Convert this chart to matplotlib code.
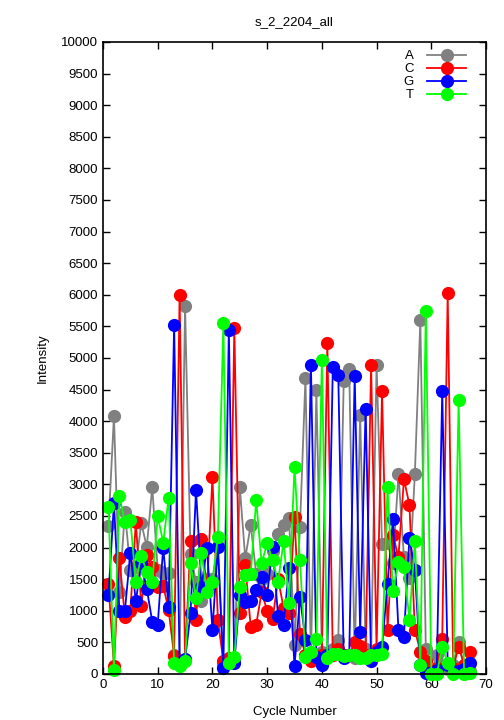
import matplotlib
matplotlib.use("Agg")
import matplotlib.pyplot as plt
import matplotlib.ticker as ticker

plt.rcParams['font.family'] = ['Liberation Sans', 'DejaVu Sans']

# cycle numbers 1..67
cycles = list(range(1, 68))

# intensities, per base
A = [2340, 4080, 1300, 2570, 1650, 1700, 2390, 2010, 2960, 1650,
     1600, 1600, 300, 200, 5820, 1900, 1450, 1150, 1500, 1500,
     2030, 150, 250, 200, 2960, 1830, 2360, 1580, 1500, 1580,
     1950, 2210, 2360, 2470, 460, 2330, 4680, 250, 4490, 350,
     300, 400, 540, 4640, 4820, 250, 4100, 400, 300, 4890,
     2050, 2070, 1750, 3170, 1850, 1520, 3170, 5600, 400, 20,
     300, 150, 80, 150, 510, 100, 50]
C = [1420, 130, 1840, 900, 1000, 2410, 1080, 1880, 1700, 1380,
     1400, 1010, 290, 5990, 220, 2100, 850, 2130, 1350, 3110,
     850, 200, 250, 5470, 960, 1720, 750, 780, 1300, 1000,
     870, 1500, 1050, 960, 2490, 640, 300, 200, 280, 300,
     5230, 300, 400, 300, 300, 500, 450, 300, 4890, 400,
     4470, 700, 2200, 1850, 3080, 2680, 700, 350, 200, 50,
     100, 560, 6030, 100, 430, 150, 350]
G = [1250, 2700, 1000, 1000, 1920, 1150, 1750, 1350, 830, 780,
     2000, 1060, 5530, 150, 230, 960, 2910, 1380, 2000, 700,
     2010, 100, 5450, 180, 1250, 1140, 1150, 1330, 1540, 1250,
     2010, 910, 780, 1680, 120, 1220, 540, 4890, 270, 140,
     300, 4860, 4730, 250, 300, 4720, 670, 4200, 200, 350,
     420, 1430, 2450, 700, 590, 2150, 1650, 150, 20, 20,
     60, 4470, 150, 50, 50, 80, 170]
T = [2650, 70, 2820, 2400, 2440, 1460, 1870, 1620, 1450, 2500,
     2080, 2790, 180, 120, 200, 1750, 1200, 1910, 1300, 1460,
     2170, 5550, 180, 270, 1380, 1570, 1580, 2750, 1750, 2070,
     1800, 1460, 2100, 1120, 3280, 1800, 270, 350, 550, 4970,
     250, 320, 320, 280, 300, 300, 250, 250, 300, 300,
     320, 2960, 1320, 1780, 1700, 860, 2100, 150, 5750, 0,
     0, 430, 170, 0, 4330, 0, 20]

series = [("A", A, "#808080"), ("C", C, "#ff0000"),
          ("G", G, "#0000ff"), ("T", T, "#00ff00")]

fig = plt.figure(figsize=(5.04, 7.2), dpi=100)
ax = fig.add_axes([103 / 504, 46 / 720, 383 / 504, 632 / 720])

for name, values, color in series:
    ax.plot(cycles, values, color=color, lw=1.3, marker="o", ms=9.5,
            markeredgewidth=0, label=name, clip_on=False)

ax.set_xlim(0, 70)
ax.set_ylim(0, 10000)
ax.xaxis.set_major_locator(ticker.MultipleLocator(10))
ax.yaxis.set_major_locator(ticker.MultipleLocator(500))
ax.tick_params(direction="in", top=True, right=True, length=5, width=1,
               labelsize=9.5)
for sp in ax.spines.values():
    sp.set_linewidth(1.2)

ax.set_title("s_2_2204_all", fontsize=9.5, pad=12)
ax.set_xlabel("Cycle Number", fontsize=9.5, labelpad=11)
ax.set_ylabel("Intensity", fontsize=9.5, labelpad=9)

leg = ax.legend(loc="upper right", bbox_to_anchor=(0.948, 0.987), frameon=False,
                markerfirst=False, handlelength=2.95, handletextpad=1.0,
                labelspacing=0.05, borderpad=0, borderaxespad=0, fontsize=9.5)
for t in leg.get_texts():
    t.set_ha("right")

fig.savefig("out.png", dpi=100)
